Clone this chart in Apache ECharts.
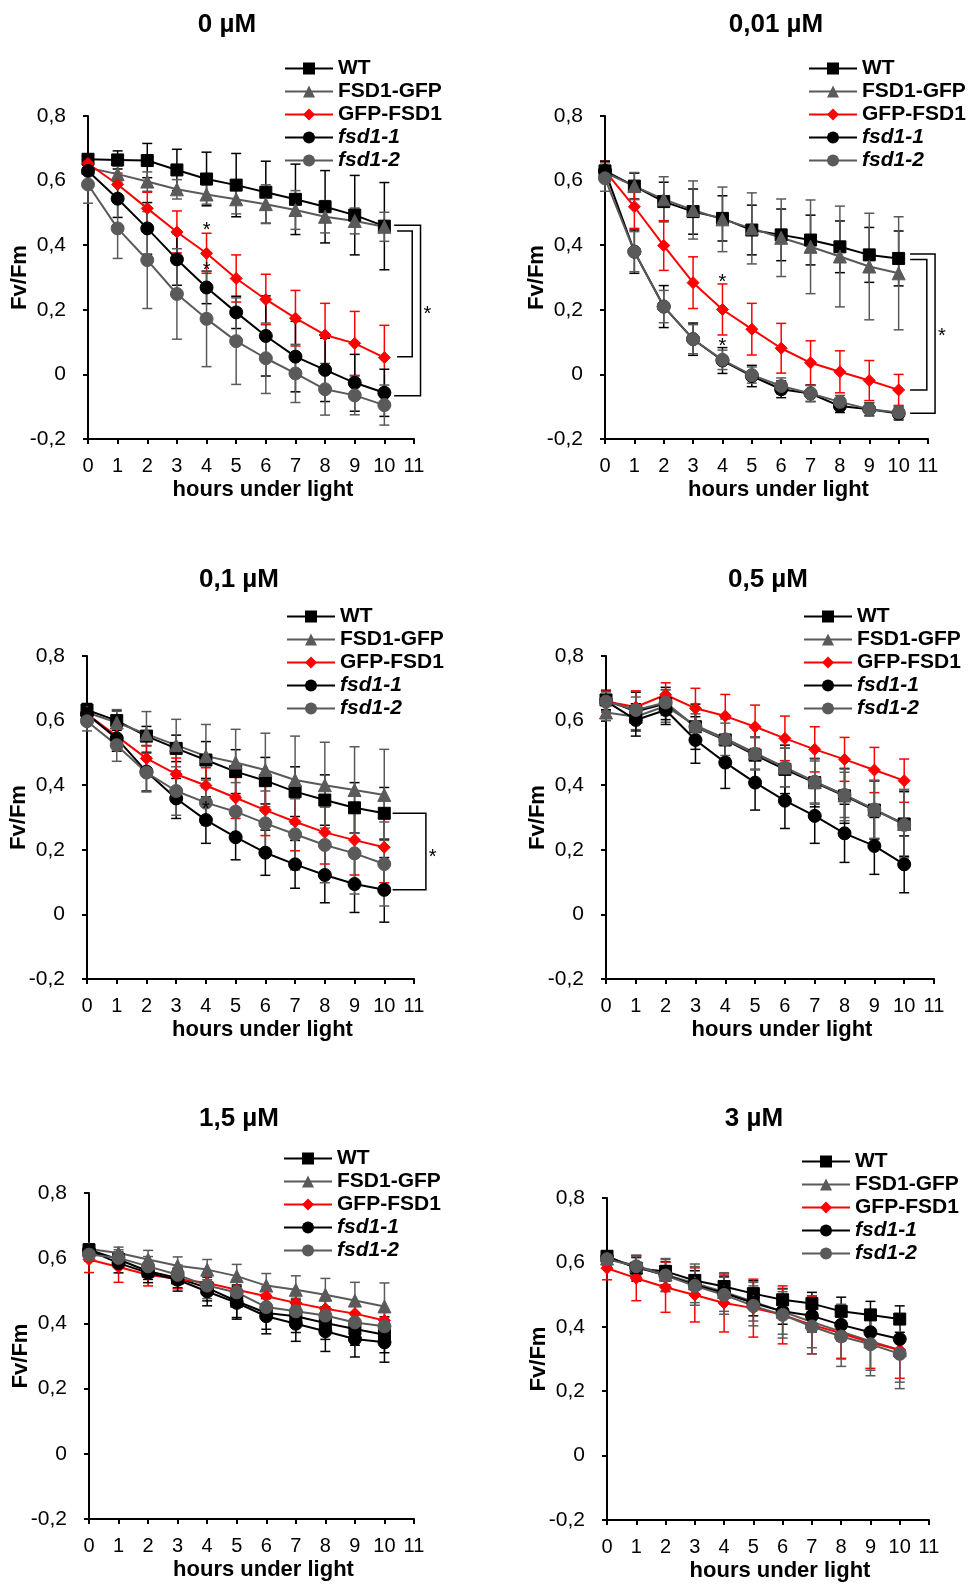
<!DOCTYPE html>
<html><head><meta charset="utf-8">
<script src="https://cdn.jsdelivr.net/npm/echarts@6/dist/echarts.min.js"></script>
<style>html,body{margin:0;padding:0;background:#fff}#c{width:968px;height:1584px}</style>
</head><body><div id="c"></div>
<script>
// ---------- data ----------
const hours = [0,1,2,3,4,5,6,7,8,9,10];
const panelTitles = ['0 µM','0,01 µM','0,1 µM','0,5 µM','1,5 µM','3 µM'];
const genotypes = ['WT','FSD1-GFP','GFP-FSD1','fsd1-1','fsd1-2'];
const xAxisTitle = 'hours under light';
const yAxisTitle = 'Fv/Fm';

// 0 µM
const wt_0      = [0.666,0.664,0.662,0.633,0.605,0.586,0.564,0.542,0.519,0.493,0.459];
const wt_0_se   = [0.015,0.028,0.053,0.064,0.083,0.098,0.096,0.109,0.112,0.123,0.135];
const fsdgfp_0    = [0.640,0.620,0.597,0.573,0.557,0.542,0.527,0.509,0.488,0.475,0.457];
const fsdgfp_0_se = [0.020,0.025,0.030,0.030,0.030,0.045,0.060,0.060,0.050,0.040,0.045];
const gfpfsd_0    = [0.653,0.588,0.514,0.441,0.375,0.297,0.232,0.174,0.122,0.096,0.052];
const gfpfsd_0_se = [0.020,0.035,0.050,0.065,0.062,0.073,0.078,0.086,0.098,0.099,0.100];
const fsd11_0    = [0.630,0.544,0.452,0.356,0.269,0.192,0.119,0.055,0.014,-0.026,-0.057];
const fsd11_0_se = [0.030,0.058,0.080,0.080,0.050,0.050,0.124,0.109,0.098,0.088,0.073];
const fsd12_0    = [0.588,0.452,0.354,0.249,0.172,0.103,0.050,0.003,-0.046,-0.065,-0.095];
const fsd12_0_se = [0.058,0.093,0.150,0.140,0.148,0.134,0.109,0.090,0.080,0.060,0.062];

// 0,01 µM
const wt_1      = [0.630,0.583,0.535,0.504,0.483,0.447,0.432,0.416,0.395,0.370,0.359];
const wt_1_se   = [0.030,0.040,0.060,0.070,0.070,0.077,0.080,0.077,0.080,0.085,0.085];
const fsdgfp_1    = [0.625,0.583,0.542,0.509,0.480,0.452,0.423,0.395,0.365,0.334,0.313];
const fsdgfp_1_se = [0.030,0.042,0.070,0.090,0.100,0.110,0.120,0.145,0.156,0.165,0.175];
const gfpfsd_1    = [0.630,0.519,0.399,0.284,0.201,0.140,0.081,0.036,0.008,-0.019,-0.048];
const gfpfsd_1_se = [0.030,0.067,0.077,0.080,0.079,0.080,0.077,0.068,0.065,0.062,0.048];
const fsd11_1    = [0.630,0.380,0.210,0.109,0.043,-0.005,-0.046,-0.059,-0.098,-0.108,-0.121];
const fsd11_1_se = [0.030,0.067,0.065,0.050,0.040,0.033,0.026,0.025,0.020,0.020,0.020];
const fsd12_1    = [0.607,0.380,0.210,0.109,0.045,-0.002,-0.036,-0.059,-0.085,-0.108,-0.118];
const fsd12_1_se = [0.040,0.062,0.050,0.045,0.030,0.025,0.025,0.025,0.020,0.020,0.020];

// 0,1 µM
const wt_2      = [0.633,0.600,0.552,0.514,0.478,0.442,0.414,0.380,0.354,0.330,0.313];
const wt_2_se   = [0.020,0.030,0.030,0.041,0.057,0.068,0.072,0.077,0.078,0.078,0.080];
const fsdgfp_2    = [0.625,0.594,0.558,0.524,0.490,0.470,0.447,0.416,0.400,0.385,0.370];
const fsdgfp_2_se = [0.020,0.040,0.070,0.080,0.098,0.103,0.114,0.136,0.133,0.134,0.141];
const gfpfsd_2    = [0.620,0.552,0.483,0.434,0.399,0.361,0.323,0.287,0.254,0.230,0.208];
const gfpfsd_2_se = [0.020,0.030,0.040,0.050,0.055,0.064,0.079,0.090,0.098,0.108,0.110];
const fsd11_2    = [0.620,0.545,0.442,0.359,0.292,0.239,0.191,0.155,0.122,0.094,0.076];
const fsd11_2_se = [0.020,0.040,0.060,0.062,0.072,0.070,0.070,0.074,0.086,0.088,0.100];
const fsd12_2    = [0.598,0.524,0.439,0.382,0.346,0.318,0.282,0.248,0.215,0.189,0.156];
const fsd12_2_se = [0.030,0.050,0.060,0.075,0.070,0.090,0.100,0.110,0.117,0.126,0.130];

// 0,5 µM
const wt_3      = [0.664,0.628,0.653,0.581,0.540,0.493,0.449,0.408,0.367,0.323,0.280];
const wt_3_se   = [0.030,0.060,0.050,0.070,0.070,0.085,0.075,0.075,0.085,0.090,0.100];
const fsdgfp_3    = [0.625,0.612,0.645,0.585,0.545,0.500,0.455,0.410,0.370,0.325,0.280];
const fsdgfp_3_se = [0.025,0.040,0.050,0.050,0.060,0.050,0.060,0.065,0.070,0.090,0.105];
const gfpfsd_3    = [0.659,0.642,0.680,0.638,0.614,0.581,0.545,0.511,0.480,0.447,0.414];
const gfpfsd_3_se = [0.033,0.050,0.037,0.062,0.067,0.067,0.069,0.070,0.068,0.070,0.067];
const fsd11_3    = [0.660,0.602,0.633,0.540,0.470,0.408,0.352,0.305,0.251,0.212,0.155];
const fsd11_3_se = [0.030,0.050,0.045,0.072,0.080,0.085,0.086,0.085,0.090,0.088,0.088];
const fsd12_3    = [0.659,0.633,0.656,0.581,0.542,0.497,0.455,0.411,0.370,0.325,0.277];
const fsd12_3_se = [0.030,0.040,0.040,0.040,0.050,0.050,0.060,0.070,0.080,0.090,0.110];

// 1,5 µM
const wt_4      = [0.626,0.596,0.560,0.539,0.509,0.468,0.432,0.422,0.401,0.383,0.365];
const wt_4_se   = [0.015,0.020,0.025,0.030,0.040,0.050,0.050,0.050,0.050,0.050,0.055];
const fsdgfp_4    = [0.628,0.616,0.596,0.577,0.565,0.545,0.516,0.503,0.488,0.470,0.452];
const fsdgfp_4_se = [0.015,0.018,0.028,0.027,0.031,0.036,0.037,0.043,0.050,0.056,0.072];
const gfpfsd_4    = [0.596,0.573,0.549,0.536,0.524,0.503,0.483,0.463,0.445,0.430,0.409];
const gfpfsd_4_se = [0.040,0.047,0.034,0.030,0.030,0.030,0.030,0.030,0.030,0.030,0.030];
const fsd11_4    = [0.624,0.585,0.555,0.534,0.498,0.463,0.422,0.399,0.376,0.352,0.342];
const fsd11_4_se = [0.020,0.030,0.030,0.035,0.044,0.050,0.054,0.054,0.062,0.055,0.061];
const fsd12_4    = [0.611,0.601,0.575,0.549,0.516,0.495,0.450,0.437,0.424,0.403,0.391];
const fsd12_4_se = [0.020,0.025,0.030,0.030,0.040,0.040,0.040,0.040,0.045,0.050,0.050];

// 3 µM
const wt_5      = [0.619,0.582,0.572,0.544,0.525,0.503,0.484,0.472,0.448,0.437,0.424];
const wt_5_se   = [0.015,0.040,0.030,0.030,0.030,0.040,0.035,0.035,0.044,0.042,0.041];
const fsdgfp_5    = [0.612,0.590,0.562,0.535,0.508,0.478,0.447,0.415,0.385,0.355,0.328];
const fsdgfp_5_se = [0.020,0.030,0.050,0.060,0.060,0.060,0.070,0.080,0.085,0.090,0.100];
const gfpfsd_5    = [0.582,0.551,0.523,0.499,0.474,0.458,0.437,0.406,0.380,0.351,0.328];
const gfpfsd_5_se = [0.036,0.070,0.078,0.084,0.090,0.090,0.090,0.090,0.078,0.080,0.088];
const fsd11_5    = [0.615,0.585,0.560,0.530,0.505,0.474,0.448,0.434,0.406,0.383,0.362];
const fsd11_5_se = [0.015,0.030,0.030,0.030,0.035,0.040,0.040,0.050,0.050,0.050,0.050];
const fsd12_5    = [0.610,0.588,0.559,0.527,0.499,0.465,0.437,0.401,0.370,0.346,0.316];
const fsd12_5_se = [0.020,0.030,0.050,0.060,0.060,0.062,0.072,0.085,0.093,0.098,0.108];

// significance brackets [xLeft, yTop, yBottom, xRight] and asterisks [x, y] (data units)
const brackets_0 = [[10.43,0.444,0.055,10.94],[10.33,0.462,-0.066,11.22]];
const stars_0    = [[4,0.460],[4,0.337],[11.45,0.200]];
const brackets_1 = [[10.39,0.356,-0.048,10.96],[10.39,0.373,-0.120,11.24]];
const stars_1    = [[4,0.300],[4,0.101],[11.47,0.132]];
const brackets_2 = [[10.28,0.313,0.076,11.40]];
const stars_2    = [[4,0.339],[11.63,0.191]];

// ---------- assembly ----------
const means = [
  [wt_0,fsdgfp_0,gfpfsd_0,fsd11_0,fsd12_0],
  [wt_1,fsdgfp_1,gfpfsd_1,fsd11_1,fsd12_1],
  [wt_2,fsdgfp_2,gfpfsd_2,fsd11_2,fsd12_2],
  [wt_3,fsdgfp_3,gfpfsd_3,fsd11_3,fsd12_3],
  [wt_4,fsdgfp_4,gfpfsd_4,fsd11_4,fsd12_4],
  [wt_5,fsdgfp_5,gfpfsd_5,fsd11_5,fsd12_5]];
const errs = [
  [wt_0_se,fsdgfp_0_se,gfpfsd_0_se,fsd11_0_se,fsd12_0_se],
  [wt_1_se,fsdgfp_1_se,gfpfsd_1_se,fsd11_1_se,fsd12_1_se],
  [wt_2_se,fsdgfp_2_se,gfpfsd_2_se,fsd11_2_se,fsd12_2_se],
  [wt_3_se,fsdgfp_3_se,gfpfsd_3_se,fsd11_3_se,fsd12_3_se],
  [wt_4_se,fsdgfp_4_se,gfpfsd_4_se,fsd11_4_se,fsd12_4_se],
  [wt_5_se,fsdgfp_5_se,gfpfsd_5_se,fsd11_5_se,fsd12_5_se]];
const bracketSets = [brackets_0,brackets_1,brackets_2,[],[],[]];
const starSets = [stars_0,stars_1,stars_2,[],[],[]];

const FONT = "'Liberation Sans', Arial, sans-serif";
const GRAY = '#5a5a5a';
const styles = [
  {color:'#000000', symbol:'rect', size:12},
  {color:GRAY, symbol:'triangle', size:13},
  {color:'#ff0000', symbol:'diamond', size:12},
  {color:'#000000', symbol:'circle', size:13},
  {color:GRAY, symbol:'circle', size:13}];

const grids = [
  {left:88, top:116, width:326, height:323},
  {left:605, top:116, width:323, height:323},
  {left:87, top:656, width:327, height:323},
  {left:606, top:656, width:328, height:323},
  {left:89, top:1193, width:325, height:326},
  {left:607, top:1198, width:322, height:322}];
const titlePos = [[227,25],[776,25],[239,580],[768,580],[239,1119],[754,1119]];
const legendPos = [[284,68],[808,68],[286,616],[803,616],[283,1158],[801,1161]];

function errRender(color){
  return function(params, api){
    const x = api.value(0);
    const lo = api.coord([x, api.value(1)]);
    const hi = api.coord([x, api.value(2)]);
    const w = 5, st = {stroke:color, lineWidth:1.5};
    return {type:'group', children:[
      {type:'line', shape:{x1:lo[0],y1:lo[1],x2:hi[0],y2:hi[1]}, style:st},
      {type:'line', shape:{x1:lo[0]-w,y1:lo[1],x2:lo[0]+w,y2:lo[1]}, style:st},
      {type:'line', shape:{x1:hi[0]-w,y1:hi[1],x2:hi[0]+w,y2:hi[1]}, style:st}]};
  };
}
function bracketRender(params, api){
  const a = api.coord([api.value(0), api.value(1)]);
  const b = api.coord([api.value(3), api.value(1)]);
  const c = api.coord([api.value(3), api.value(2)]);
  const d = api.coord([api.value(0), api.value(2)]);
  return {type:'polyline', shape:{points:[a,b,c,d]}, style:{stroke:'#000', lineWidth:1.5, fill:null}};
}
function starRender(params, api){
  const p = api.coord([api.value(0), api.value(1)]);
  return {type:'text', x:p[0], y:p[1]+5, style:{text:'*', fill:'#000', font:"20px "+FONT, align:'center', verticalAlign:'middle'}};
}
function yFmt(v){ if (Math.abs(v) < 1e-9) return '0'; return (Math.round(v*10)/10).toFixed(1).replace('.', ','); }

const option = {
  animation:false,
  backgroundColor:'#fff',
  grid:[], xAxis:[], yAxis:[], legend:[], series:[], graphic:[]
};

for (let p = 0; p < 6; p++){
  option.grid.push(Object.assign({containLabel:false, outerBoundsMode:'none'}, grids[p]));
  option.xAxis.push({
    gridIndex:p, type:'value', min:0, max:11, interval:1,
    axisLine:{show:true, onZero:false, lineStyle:{color:'#000', width:2}},
    axisTick:{show:true, length:5, lineStyle:{color:'#000', width:2}},
    axisLabel:{fontSize:20, color:'#000', fontFamily:FONT, margin:17, hideOverlap:false},
    splitLine:{show:false},
    name:xAxisTitle, nameLocation:'middle', nameGap:40, nameMoveOverlap:false,
    nameTextStyle:{fontSize:22, fontWeight:'bold', color:'#000', fontFamily:FONT, padding:[0,0,0,24]}
  });
  option.yAxis.push({
    gridIndex:p, type:'value', min:-0.2, max:0.8, interval:0.2,
    axisLine:{show:true, lineStyle:{color:'#000', width:2}},
    axisTick:{show:true, length:5, lineStyle:{color:'#000', width:2}},
    axisLabel:{fontSize:21, color:'#000', fontFamily:FONT, margin:22, formatter:yFmt},
    splitLine:{show:false},
    name:yAxisTitle, nameLocation:'middle', nameGap:57, nameMoveOverlap:false,
    nameTextStyle:{fontSize:22, fontWeight:'bold', color:'#000', fontFamily:FONT}
  });
  option.legend.push({
    left:legendPos[p][0], top:legendPos[p][1]-10, orient:'vertical',
    itemWidth:48, itemHeight:15, itemGap:2, padding:0, selectedMode:false,
    textStyle:{fontSize:21, fontWeight:'bold', color:'#000', fontFamily:FONT, lineHeight:20},
    data:genotypes.map(g => g.startsWith('fsd1') ? {name:g, textStyle:{fontStyle:'italic'}} : {name:g})
  });
  option.graphic.push({type:'text', x:titlePos[p][0], y:titlePos[p][1],
    style:{text:panelTitles[p], font:"bold 26px "+FONT, fill:'#000', align:'center', verticalAlign:'middle'}});

  for (let g = 0; g < 5; g++){
    const st = styles[g];
    const m = means[p][g], e = errs[p][g];
    option.series.push({
      type:'custom', name:'err', xAxisIndex:p, yAxisIndex:p, silent:true, z:2,
      data:hours.map((h,i) => [h, m[i]-e[i], m[i]+e[i]]),
      encode:{x:0, y:[1,2]}, renderItem:errRender(st.color)
    });
    option.series.push({
      type:'line', name:genotypes[g], xAxisIndex:p, yAxisIndex:p, z:2,
      data:hours.map((h,i) => [h, m[i]]),
      symbol:st.symbol, symbolSize:st.size, showSymbol:true,
      itemStyle:{color:st.color, borderColor:st.color},
      lineStyle:{color:st.color, width:2},
      emphasis:{disabled:true}
    });
  }
  if (bracketSets[p].length){
    option.series.push({type:'custom', name:'bracket', xAxisIndex:p, yAxisIndex:p, silent:true, clip:false, z:4,
      data:bracketSets[p], encode:{x:[0,3], y:[1,2]}, renderItem:bracketRender});
  }
  if (starSets[p].length){
    option.series.push({type:'custom', name:'star', xAxisIndex:p, yAxisIndex:p, silent:true, clip:false, z:4,
      data:starSets[p], encode:{x:0, y:1}, renderItem:starRender});
  }
}

const chart = echarts.init(document.getElementById('c'), null, {renderer:'canvas'});
chart.setOption(option);
</script></body></html>
